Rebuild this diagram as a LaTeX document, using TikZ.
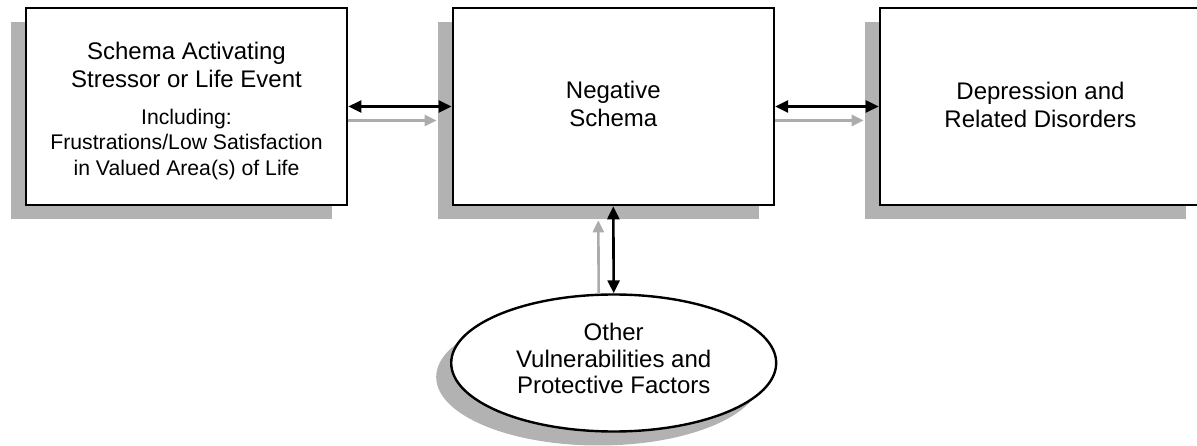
\documentclass[tikz,border=0pt]{standalone}
\usepackage{fontspec}
\setmainfont{Liberation Sans}
\usetikzlibrary{arrows.meta,shapes.geometric,shadows}
\definecolor{shadowc}{RGB}{178,178,178}
\definecolor{greyarrow}{RGB}{172,172,172}
\begin{document}
\begin{tikzpicture}[x=1pt,y=-1pt,
  shad/.style={drop shadow={shadow xshift=-15pt, shadow yshift=-14pt, opacity=1, fill=shadowc}},
  box/.style={draw=black, line width=2.6pt, fill=white, minimum width=321pt, minimum height=197pt, inner sep=0pt, shad},
  oval/.style={ellipse, draw=black, line width=2.4pt, fill=white, minimum width=325pt, minimum height=137pt, inner sep=0pt, shad},
  txt/.style={align=center, inner sep=0pt, anchor=base},
  big/.style={font=\fontsize{24}{28.2}\selectfont},
  small/.style={font=\fontsize{21.2}{25.7}\selectfont},
  dbl/.style={line width=2.6pt, {Triangle[length=13pt,width=12pt]}-{Triangle[length=13pt,width=12pt]}},
  gry/.style={line width=2.6pt, draw=greyarrow, -{Triangle[length=12pt,width=11pt]}}
]
\useasboundingbox (0,0) rectangle (1197,446);

\node[box] (L) at (186.5,106.5) {};
\node[box] (M) at (613.3,106.5) {};
\node[box] (R) at (1040.5,106.5) {};
\node[oval] (E) at (613.7,363) {};

% anchor=base of a multi-line node lies on its last line
\node[txt,big] (Lt1) at (186.5,87.3) {Schema Activating\\Stressor or Life Event};
\node[txt,small] (Lt2) at (186.5,175.7) {Including:\\Frustrations/Low Satisfaction\\in Valued Area(s) of Life};
\node[txt,big] (Mt) at (613.3,126.7) {Negative\\Schema};
\node[txt,big] (Rt) at (1040.5,128) {Depression and\\Related Disorders};
\node[txt,font=\fontsize{24}{26.3}\selectfont] (Et) at (613.7,393.3) {Other\\Vulnerabilities and\\Protective Factors};

\draw[dbl] (L.east) -- (M.west);
\draw[gry] ([yshift=-14pt]L.east) -- ([xshift=-15pt,yshift=-14pt]M.west);
\draw[dbl] (M.east) -- (R.west);
\draw[gry] ([yshift=-14pt]M.east) -- ([xshift=-15pt,yshift=-14pt]R.west);
\draw[dbl] (M.south) -- (E.north);
\draw[gry] ([xshift=-15pt]E.north) -- ([xshift=-15pt,yshift=-14pt]M.south);
\end{tikzpicture}
\end{document}
